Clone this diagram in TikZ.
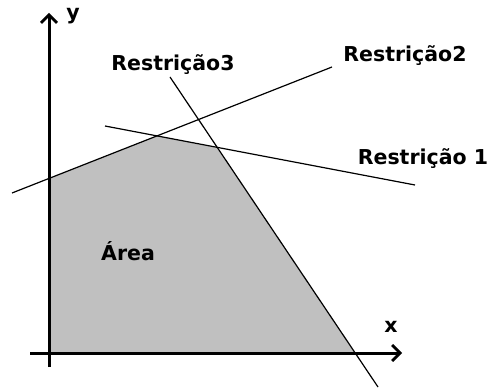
\documentclass[tikz,border=0pt]{standalone}
\usepackage{fontspec}
\setmainfont{DejaVu Sans}
\usetikzlibrary{arrows.meta}
\begin{document}
\begin{tikzpicture}[x=1pt, y=1pt,
    eixo/.style={line width=3pt, -{Straight Barb[length=8pt, width=16pt, line width=2.8pt]}},
    restr/.style={line width=1.2pt},
    rotulo/.style={font=\bfseries\fontsize{20.5}{24}\selectfont, inner sep=0pt, anchor=base}]
	\useasboundingbox (-49,-35) rectangle (440,353);
	% 1. pontos das restrições
	\coordinate (r1a) at (56,227);  \coordinate (r1b) at (366,168);
	\coordinate (r2a) at (-37,160); \coordinate (r2b) at (283,286);
	\coordinate (r3a) at (121,276); \coordinate (r3b) at (329,-34);
	\coordinate (o) at (0,0);
	\coordinate (v12) at (intersection of r1a--r1b and r2a--r2b);
	\coordinate (v13) at (intersection of r1a--r1b and r3a--r3b);
	\coordinate (vy) at (intersection of r2a--r2b and o--0,100);
	\coordinate (vx) at (intersection of r3a--r3b and o--100,0);
	
	% 2. área viável
	\fill[fill={rgb,255:red,192;green,192;blue,192}] (o) -- (vy) -- (v12) -- (v13) -- (vx) -- cycle;
	
	% 3. eixos
	\coordinate (xa) at (-19,0); \coordinate (xb) at (353,0);
	\coordinate (ya) at (0,-14); \coordinate (yb) at (0,340);
	\draw[eixo] (xa) -- (xb);
	\draw[eixo] (ya) -- (yb);
	\node[rotulo] (ly) at (24,333) {y};
	\node[rotulo] (lx) at (342,21) {x};
	
	% 4. restrições
	\draw[restr] (r1a) -- (r1b);
	\draw[restr] (r2a) -- (r2b);
	\draw[restr] (r3a) -- (r3b);
	\node[rotulo] (t1) at (374,188) {Restrição 1};
	\node[rotulo] (t2) at (356,291) {Restrição2};
	\node[rotulo] (t3) at (124,282) {Restrição3};
	\node[rotulo] (ta) at (79,93) {Área};
\end{tikzpicture}
\end{document}
